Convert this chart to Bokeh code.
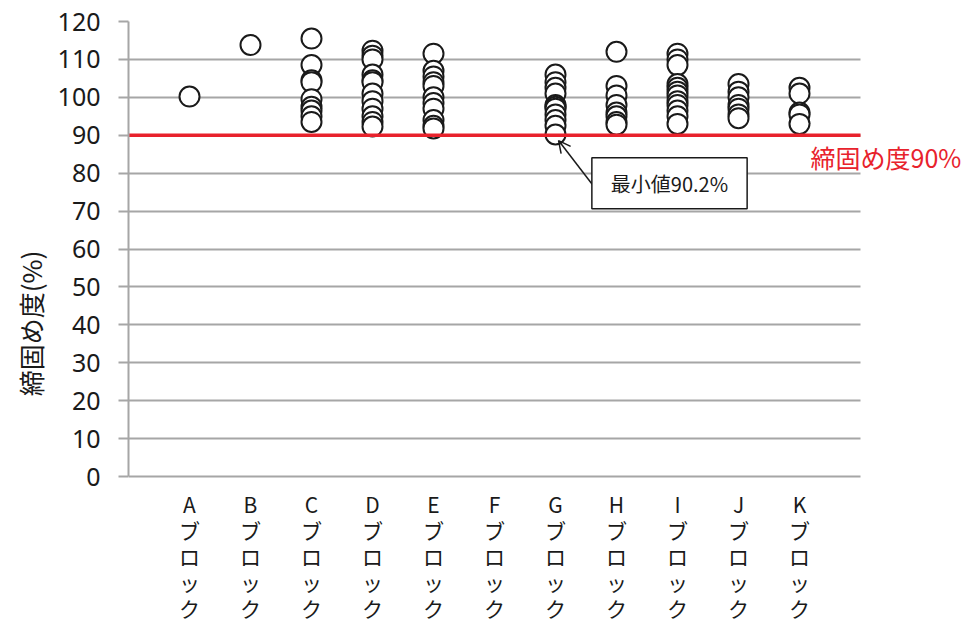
from bokeh.plotting import figure
from bokeh.models import Range1d, FixedTicker, Label, Arrow, OpenHead, ColumnDataSource, Title
from bokeh.core.properties import value
from bokeh.embed import file_html
from bokeh.resources import INLINE

categories = ["A", "B", "C", "D", "E", "F", "G", "H", "I", "J", "K"]
block_A = [100.2]
block_B = [113.8]
block_C = [115.5, 108.5, 104.5, 104.0, 99.5, 97.5, 96.5, 95.0, 93.5]
block_D = [112.3, 111.0, 110.0, 106.0, 104.5, 104.0, 101.0, 99.0, 97.0, 95.0, 93.5, 92.3]
block_E = [111.5, 107.0, 105.5, 104.0, 103.0, 100.0, 98.5, 97.0, 94.0, 92.5, 91.8]
block_F = []
block_G = [106.0, 104.0, 102.5, 101.0, 98.0, 97.5, 97.0, 95.5, 94.0, 92.5, 90.2]
block_H = [112.0, 103.0, 100.5, 98.0, 96.0, 95.0, 93.5, 92.8]
block_I = [111.5, 110.0, 108.5, 103.5, 102.5, 101.5, 100.5, 99.0, 98.0, 96.5, 95.0, 93.0]
block_J = [103.5, 101.5, 100.0, 98.0, 97.0, 95.5, 94.5]
block_K = [102.5, 101.0, 96.0, 95.5, 93.0]
blocks = [block_A, block_B, block_C, block_D, block_E, block_F, block_G,
          block_H, block_I, block_J, block_K]
y_ticks = [0, 10, 20, 30, 40, 50, 60, 70, 80, 90, 100, 110, 120]
threshold = 90
threshold_label = "締固め度90%"
min_label = "最小値90.2%"
y_label = "締固め度(%)"
suffix = "ブロック"

n = len(categories)
xs, ys = [], []
for i, vals in enumerate(blocks):
    for v in vals:
        xs.append(i + 1)
        ys.append(v)
src = ColumnDataSource(dict(x=xs, y=ys))

# layout (pixels)
W, H = 973, 625
left, top = 128, 21
plot_h = 455            # pixel height of 0..120
plot_w = 732            # pixel width of the category band
ppu = plot_h / 120.0
y_bottom = -(H - top - plot_h) / ppu
x_end = (n + 1) * (W - left) / plot_w

p = figure(width=W, height=H, output_backend="svg", toolbar_location=None,
           x_range=Range1d(0, x_end), y_range=Range1d(y_bottom, 120),
           min_border_left=left, min_border_right=0, min_border_top=top, min_border_bottom=0)
p.outline_line_color = None
p.background_fill_color = "white"
p.xaxis.visible = False

grid_color = "#a6a6a6"
p.xgrid.grid_line_color = None
p.ygrid.ticker = FixedTicker(ticks=y_ticks)
p.ygrid.grid_line_color = grid_color
p.ygrid.grid_line_width = 2
p.ygrid.cross_bounds = (0, n + 1)

# y axis
p.yaxis.ticker = FixedTicker(ticks=y_ticks)
p.yaxis.bounds = (0, 120)
p.yaxis.axis_line_color = grid_color
p.yaxis.axis_line_width = 2
p.yaxis.major_tick_line_color = grid_color
p.yaxis.major_tick_line_width = 2
p.yaxis.major_tick_out = 10
p.yaxis.major_tick_in = 0
p.yaxis.minor_tick_line_color = None
p.yaxis.major_label_text_font = "Noto Sans"
p.yaxis.major_label_text_font_size = "25px"
p.yaxis.major_label_text_color = "#1a1a1a"
p.yaxis.major_label_standoff = 18

# y axis title, centred on the 0..120 part of the axis
p.add_layout(Title(text=y_label, align="center", offset=(H - top) / 2 - plot_h / 2,
                   text_font="Noto Sans CJK JP", text_font_size="26px",
                   text_font_style="normal", text_color="#1a1a1a", standoff=12), "left")

# stacked vertical category labels below the plot
row_gap_px = [27, 53, 79, 105, 131]
lx, ly, lt = [], [], []
for i, c in enumerate(categories):
    chars = [c] + list(suffix)
    for r, ch in enumerate(chars):
        lx.append(i + 1)
        ly.append(-row_gap_px[r] / ppu)
        lt.append(ch)
p.text(x=lx, y=ly, text=lt, text_font=value("Noto Sans CJK JP"), text_font_size="21px",
       text_color="#1a1a1a", text_align="center", text_baseline="middle")

p.scatter("x", "y", source=src, size=20, fill_color="white", line_color="#1a1a1a", line_width=2)

# threshold line
p.line([0, n + 1], [threshold, threshold], line_color="#e8222c", line_width=3.5)

p.add_layout(Label(x=n, y=threshold, x_offset=11, y_offset=-22, text=threshold_label,
                   text_font="Noto Sans CJK JP", text_font_size="25px", text_color="#e8222c",
                   text_baseline="middle", text_align="left"))

# minimum annotation
g = categories.index("G") + 1
p.add_layout(Arrow(x_start=g + 0.62, y_start=76.7, x_end=g + 0.05, y_end=88.6,
                   line_color="#1a1a1a", line_width=1.5,
                   end=OpenHead(size=12, line_color="#1a1a1a", line_width=1.5)))
p.add_layout(Label(x=g, y=threshold, x_offset=114, y_offset=-48, text=min_label,
                   text_font="Noto Sans CJK JP", text_font_size="20px", text_color="#1a1a1a",
                   text_baseline="middle", text_align="center",
                   border_line_color="#1a1a1a", border_line_width=1.5,
                   background_fill_color="white", padding=(19, 11)))

open("out.html", "w").write(file_html(p, INLINE))
